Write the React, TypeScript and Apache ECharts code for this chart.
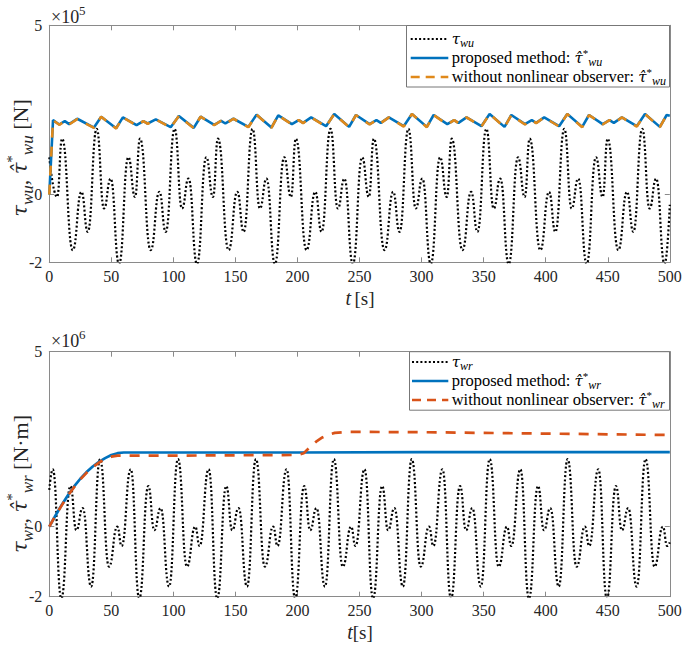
import React, { useEffect, useRef } from 'react';
import * as echarts from 'echarts';

// ---------- data (top panel, ×10^5 N) ----------
const tauWuT = [0, 6.3, 10.3, 18.9, 25.9, 31.0,
  38.2, 44.1, 49.4, 56.2, 63.7, 69.1, 73.1, 81.7, 88.7, 93.8,
  101.0, 106.9, 112.2, 119.0, 126.5, 131.9, 135.9, 144.5, 151.5, 156.6,
  163.8, 169.7, 175.0, 181.8, 189.3, 194.7, 198.7, 207.3, 214.3, 219.4,
  226.6, 232.5, 237.8, 244.6, 252.1, 257.5, 261.5, 270.1, 277.1, 282.2,
  289.4, 295.3, 300.6, 307.4, 314.9, 320.3, 324.3, 332.9, 339.9, 345.0,
  352.2, 358.1, 363.4, 370.2, 377.7, 383.1, 387.1, 395.7, 402.7, 407.8,
  415.0, 420.9, 426.2, 433.0, 440.5, 445.9, 449.9, 458.5, 465.5, 470.6,
  477.8, 483.7, 489.0, 495.8, 500];
const tauWuV = [1.1, -0.07, 1.65, -1.64, 0.08, -1.1,
  1.94, -0.41, 0.47, -2.05, 1.1, -0.07, 1.65, -1.64, 0.08, -1.1,
  1.94, -0.41, 0.47, -2.05, 1.1, -0.07, 1.65, -1.64, 0.08, -1.1,
  1.94, -0.41, 0.47, -2.05, 1.1, -0.07, 1.65, -1.64, 0.08, -1.1,
  1.94, -0.41, 0.47, -2.05, 1.1, -0.07, 1.65, -1.64, 0.08, -1.1,
  1.94, -0.41, 0.47, -2.05, 1.1, -0.07, 1.65, -1.64, 0.08, -1.1,
  1.94, -0.41, 0.47, -2.05, 1.1, -0.07, 1.65, -1.64, 0.08, -1.1,
  1.94, -0.41, 0.47, -2.05, 1.1, -0.07, 1.65, -1.64, 0.08, -1.1,
  1.94, -0.41, 0.47, -2.05, -0.3];

const estWuT = [0, 3, 8, 12.5, 16, 22.5, 36,
  41.8, 53.8, 59.3, 70.3, 75.8, 79.3, 85.8, 97.8,
  104.4, 116.4, 121.9, 132.9, 138.4, 141.9, 148.4, 160.4,
  167.0, 179.0, 184.5, 195.5, 201.0, 204.5, 211.0, 223.0,
  229.6, 241.6, 247.1, 258.1, 263.6, 267.1, 273.6, 285.6,
  292.2, 304.2, 309.7, 320.7, 326.2, 329.7, 336.2, 348.2,
  354.8, 366.8, 372.3, 383.3, 388.8, 392.3, 398.8, 410.8,
  417.4, 429.4, 434.9, 445.9, 451.4, 454.9, 461.4, 473.4,
  480.0, 492.0, 497.5, 500];
const estWuProposedV = [0, 2.2, 2.07, 2.17, 2.08, 2.24, 1.98,
  2.3, 1.96, 2.28, 2.05, 2.17, 2.1, 2.22, 1.99,
  2.32, 1.97, 2.3, 2.06, 2.18, 2.1, 2.24, 2.0,
  2.36, 1.98, 2.34, 2.08, 2.2, 2.12, 2.28, 2.02,
  2.38, 2.0, 2.35, 2.08, 2.2, 2.12, 2.28, 2.02,
  2.38, 2.0, 2.35, 2.08, 2.2, 2.12, 2.28, 2.02,
  2.38, 2.0, 2.35, 2.08, 2.2, 2.12, 2.28, 2.02,
  2.38, 2.0, 2.35, 2.08, 2.2, 2.12, 2.28, 2.02,
  2.38, 2.0, 2.35, 2.33];
const estWuNoObsV = [0, 2.2, 2.06, 2.17, 2.07, 2.23, 1.97,
  2.3, 1.95, 2.28, 2.04, 2.17, 2.09, 2.22, 1.98,
  2.32, 1.96, 2.3, 2.05, 2.18, 2.09, 2.24, 1.99,
  2.36, 1.97, 2.34, 2.07, 2.2, 2.11, 2.28, 2.01,
  2.38, 1.99, 2.35, 2.07, 2.2, 2.11, 2.28, 2.01,
  2.38, 1.99, 2.35, 2.07, 2.2, 2.11, 2.28, 2.01,
  2.38, 1.99, 2.35, 2.07, 2.2, 2.11, 2.28, 2.01,
  2.38, 1.99, 2.35, 2.07, 2.2, 2.11, 2.28, 2.01,
  2.38, 1.99, 2.35, 2.33];

// ---------- data (bottom panel, ×10^6 N·m) ----------
const tauWrT = [0, 2.8, 9.7, 17.0, 21.8, 26.9, 33.7,
  40.9, 48.1, 54.8, 58.3, 65.6, 72.5, 79.8, 84.6, 89.7, 96.5,
  103.7, 110.9, 117.6, 121.1, 128.4, 135.3, 142.6, 147.4, 152.5, 159.3,
  166.5, 173.7, 180.4, 183.9, 191.2, 198.1, 205.4, 210.2, 215.3, 222.1,
  229.3, 236.5, 243.2, 246.7, 254.0, 260.9, 268.2, 273.0, 278.1, 284.9,
  292.1, 299.3, 306.0, 309.5, 316.8, 323.7, 331.0, 335.8, 340.9, 347.7,
  354.9, 362.1, 368.8, 372.3, 379.6, 386.5, 393.8, 398.6, 403.7, 410.5,
  417.7, 424.9, 431.6, 435.1, 442.4, 449.3, 456.6, 461.4, 466.5, 473.3,
  480.5, 487.7, 494.4, 497.9, 500];
const tauWrV = [1.05, 1.64, -2.05, 1.16, -0.1, 0.53, -1.71,
  1.93, -1.14, 0.0, -0.55, 1.64, -2.05, 1.16, -0.1, 0.53, -1.71,
  1.93, -1.14, 0.0, -0.55, 1.64, -2.05, 1.16, -0.1, 0.53, -1.71,
  1.93, -1.14, 0.0, -0.55, 1.64, -2.05, 1.16, -0.1, 0.53, -1.71,
  1.93, -1.14, 0.0, -0.55, 1.64, -2.05, 1.16, -0.1, 0.53, -1.71,
  1.93, -1.14, 0.0, -0.55, 1.64, -2.05, 1.16, -0.1, 0.53, -1.71,
  1.93, -1.14, 0.0, -0.55, 1.64, -2.05, 1.16, -0.1, 0.53, -1.71,
  1.93, -1.14, 0.0, -0.55, 1.64, -2.05, 1.16, -0.1, 0.53, -1.71,
  1.93, -1.14, 0.0, -0.55, -0.45];

const estWrProposedT = [0, 5, 10, 15, 20, 25, 30, 35, 40, 45, 50, 55, 60, 100, 200, 300, 400, 500];
const estWrProposedV = [0, 0.32, 0.62, 0.9, 1.15, 1.37, 1.56, 1.72, 1.85, 1.96, 2.05, 2.1, 2.12, 2.12, 2.12, 2.13, 2.13, 2.13];

const estWrNoObsT = [0, 5, 10, 15, 20, 25, 30, 35, 40, 45, 50, 55, 100, 150, 200, 205, 210, 215, 220, 225, 230, 240, 300, 400, 500];
const estWrNoObsV = [0, 0.32, 0.61, 0.89, 1.13, 1.35, 1.54, 1.7, 1.83, 1.94, 2.0, 2.03, 2.03, 2.04, 2.05, 2.1, 2.27, 2.43, 2.55, 2.63, 2.68, 2.71, 2.7, 2.66, 2.62];

const yTickValues = [-2, 0, 5];
const xMin = 0, xMax = 500, xStep = 50;

const zip = (t: number[], v: number[]) => t.map((x, i) => [x, v[i]]);

const FONT = 'Liberation Serif, serif';
const GREEK = 'DejaVu Serif, serif';
const AXIS_COLOR = '#8a8a8a';
const TEXT_COLOR = '#262626';
const BLUE = '#0072BD';
const ORANGE = '#E0891A';
const RED = '#D95319';

export default function App() {
  const ref = useRef<HTMLDivElement>(null);

  useEffect(() => {
    const chart = echarts.init(ref.current!, null, { renderer: 'svg' });

    const xAx = (gridIndex: number, position: string, showLabel: boolean) => ({
      type: 'value', gridIndex, position, min: xMin, max: xMax, interval: xStep,
      axisLine: { show: true, onZero: false, lineStyle: { color: AXIS_COLOR, width: 1 } },
      axisTick: { show: true, inside: true, length: 5, lineStyle: { color: AXIS_COLOR } },
      axisLabel: { show: showLabel, fontFamily: FONT, fontSize: 16, color: TEXT_COLOR, margin: 6 },
      splitLine: { show: false },
    });
    const yAx = (gridIndex: number, position: string, showLabel: boolean) => ({
      type: 'value', gridIndex, position, min: -2, max: 5, interval: 1,
      axisLine: { show: true, onZero: false, lineStyle: { color: AXIS_COLOR, width: 1 } },
      axisTick: { show: true, inside: true, length: 5, customValues: yTickValues, lineStyle: { color: AXIS_COLOR } },
      axisLabel: { show: showLabel, customValues: yTickValues, fontFamily: FONT, fontSize: 16, color: TEXT_COLOR, margin: 7 },
      splitLine: { show: false },
    });

    const richY = {
      g: { fontFamily: GREEK, fontSize: 21, fontStyle: 'italic', lineHeight: 32, align: 'left', fill: TEXT_COLOR },
      n: { fontFamily: FONT, fontSize: 22, lineHeight: 32, align: 'left', fill: TEXT_COLOR },
      sub: { fontFamily: FONT, fontSize: 17, fontStyle: 'italic', verticalAlign: 'bottom', height: 17, lineHeight: 17, align: 'left', fill: TEXT_COLOR },
      sup: { fontFamily: FONT, fontSize: 15, verticalAlign: 'top', height: 15, lineHeight: 15, align: 'left', fill: TEXT_COLOR },
    };
    const richL = {
      g: { fontFamily: GREEK, fontSize: 15, fontStyle: 'italic', lineHeight: 17, align: 'left', fill: '#000' },
      n: { fontFamily: FONT, fontSize: 16.5, lineHeight: 17, align: 'left', fill: '#000' },
      sub: { fontFamily: FONT, fontSize: 12, fontStyle: 'italic', verticalAlign: 'bottom', height: 9, lineHeight: 9, align: 'left', fill: '#000' },
      sup: { fontFamily: FONT, fontSize: 11, verticalAlign: 'top', height: 8, lineHeight: 8, align: 'left', fill: '#000' },
    };
    const richX = {
      m: { fontFamily: FONT, fontSize: 20, fontStyle: 'italic', align: 'left', fill: TEXT_COLOR },
      n: { fontFamily: FONT, fontSize: 19, align: 'left', fill: TEXT_COLOR },
    };

    const lgText = (x: number, y: number, text: string) => ({
      type: 'text', x, y, z: 101,
      style: { text, rich: richL, align: 'left', verticalAlign: 'middle', fontFamily: FONT, fontSize: 16, lineHeight: 17 },
    });
    const lgLine = (x1: number, x2: number, y: number, stroke: string, lineWidth: number, lineDash: any) => ({
      type: 'line', z: 101, shape: { x1, y1: y, x2, y2: y },
      style: { stroke, lineWidth, lineDash },
    });

    const graphic: any[] = [
      // top legend
      { type: 'rect', z: 100, shape: { x: 406.5, y: 25.5, width: 263, height: 61.5 }, style: { fill: '#fff', stroke: '#777', lineWidth: 1 } },
      lgLine(410.7, 448.3, 39, '#000', 2.2, [2, 2.2]),
      lgLine(410.7, 448.3, 58, BLUE, 2.5, null),
      lgLine(410.7, 448.3, 77, ORANGE, 2.5, [9, 6]),
      lgText(451.7, 38.5, '{g|τ}{sub|wu}'),
      lgText(451.7, 57.5, '{n|proposed method: }{g|τ̂}{sup|*}{sub|wu}'),
      lgText(451.7, 76.5, '{n|without nonlinear observer: }{g|τ̂}{sup|*}{sub|wu}'),
      // bottom legend
      { type: 'rect', z: 100, shape: { x: 409.5, y: 351.7, width: 260, height: 58.5 }, style: { fill: '#fff', stroke: '#777', lineWidth: 1 } },
      lgLine(412, 448.3, 362, '#000', 2.2, [2, 2.2]),
      lgLine(412, 448.3, 381, BLUE, 2.5, null),
      lgLine(412, 448.3, 400, RED, 2.5, [9, 6]),
      lgText(451.7, 361.5, '{g|τ}{sub|wr}'),
      lgText(451.7, 380.5, '{n|proposed method: }{g|τ̂}{sup|*}{sub|wr}'),
      lgText(451.7, 399.5, '{n|without nonlinear observer: }{g|τ̂}{sup|*}{sub|wr}'),
      // exponent labels
      { type: 'text', x: 51, y: 17, style: { text: '×10', fontFamily: FONT, fontSize: 18, fill: TEXT_COLOR, align: 'left', verticalAlign: 'middle' } },
      { type: 'text', x: 79, y: 10, style: { text: '5', fontFamily: FONT, fontSize: 13, fill: TEXT_COLOR, align: 'left', verticalAlign: 'middle' } },
      { type: 'text', x: 51, y: 341, style: { text: '×10', fontFamily: FONT, fontSize: 18, fill: TEXT_COLOR, align: 'left', verticalAlign: 'middle' } },
      { type: 'text', x: 79, y: 334, style: { text: '6', fontFamily: FONT, fontSize: 13, fill: TEXT_COLOR, align: 'left', verticalAlign: 'middle' } },
      // x axis names
      { type: 'text', x: 360, y: 298, style: { text: '{m|t} {n|[s]}', rich: richX, align: 'center', verticalAlign: 'middle' } },
      { type: 'text', x: 360, y: 632, style: { text: '{m|t}{n|[s]}', rich: richX, align: 'center', verticalAlign: 'middle' } },
      // y axis names
      { type: 'text', x: 20, y: 158, rotation: Math.PI / 2, style: { text: '{g|τ}{sub|wu}{n|, }{g|τ̂}{sup|*}{sub|wu}{n| [N]}', rich: richY, align: 'center', verticalAlign: 'middle' } },
      { type: 'text', x: 20, y: 484, rotation: Math.PI / 2, style: { text: '{g|τ}{sub|wr}{n|, }{g|τ̂}{sup|*}{sub|wr}{n| [N·m]}', rich: richY, align: 'center', verticalAlign: 'middle' } },
    ];

    const option: any = {
      animation: false,
      backgroundColor: '#fff',
      grid: [
        { left: 49.3, top: 25.3, width: 620.5, height: 237 },
        { left: 49.3, top: 351.7, width: 620.5, height: 245 },
      ],
      xAxis: [xAx(0, 'bottom', true), xAx(0, 'top', false), xAx(1, 'bottom', true), xAx(1, 'top', false)],
      yAxis: [yAx(0, 'left', true), yAx(0, 'right', false), yAx(1, 'left', true), yAx(1, 'right', false)],
      series: [
        { name: 'τwu', type: 'line', xAxisIndex: 0, yAxisIndex: 0, data: zip(tauWuT, tauWuV), symbol: 'none', smooth: 0.5, smoothMonotone: 'x', clip: true, silent: true,
          lineStyle: { color: '#000', width: 2.2, type: [2, 2.2] } },
        { name: 'proposed wu', type: 'line', xAxisIndex: 0, yAxisIndex: 0, data: zip(estWuT, estWuProposedV), symbol: 'none', clip: true, silent: true,
          lineStyle: { color: BLUE, width: 2.6 } },
        { name: 'without wu', type: 'line', xAxisIndex: 0, yAxisIndex: 0, data: zip(estWuT, estWuNoObsV), symbol: 'none', clip: true, silent: true,
          lineStyle: { color: ORANGE, width: 2.6, type: [10, 9] } },
        { name: 'τwr', type: 'line', xAxisIndex: 2, yAxisIndex: 2, data: zip(tauWrT, tauWrV), symbol: 'none', smooth: 0.5, smoothMonotone: 'x', clip: true, silent: true,
          lineStyle: { color: '#000', width: 2.2, type: [2, 2.2] } },
        { name: 'proposed wr', type: 'line', xAxisIndex: 2, yAxisIndex: 2, data: zip(estWrProposedT, estWrProposedV), symbol: 'none', clip: true, silent: true,
          lineStyle: { color: BLUE, width: 2.7 } },
        { name: 'without wr', type: 'line', xAxisIndex: 2, yAxisIndex: 2, data: zip(estWrNoObsT, estWrNoObsV), symbol: 'none', clip: true, silent: true,
          lineStyle: { color: RED, width: 2.7, type: [10, 9] } },
      ],
      graphic,
    };

    chart.setOption(option);
    return () => chart.dispose();
  }, []);

  return (
    <div
      ref={ref}
      style={{ position: 'absolute', left: 0, top: 0, width: 685, height: 649, background: '#fff' }}
    />
  );
}
